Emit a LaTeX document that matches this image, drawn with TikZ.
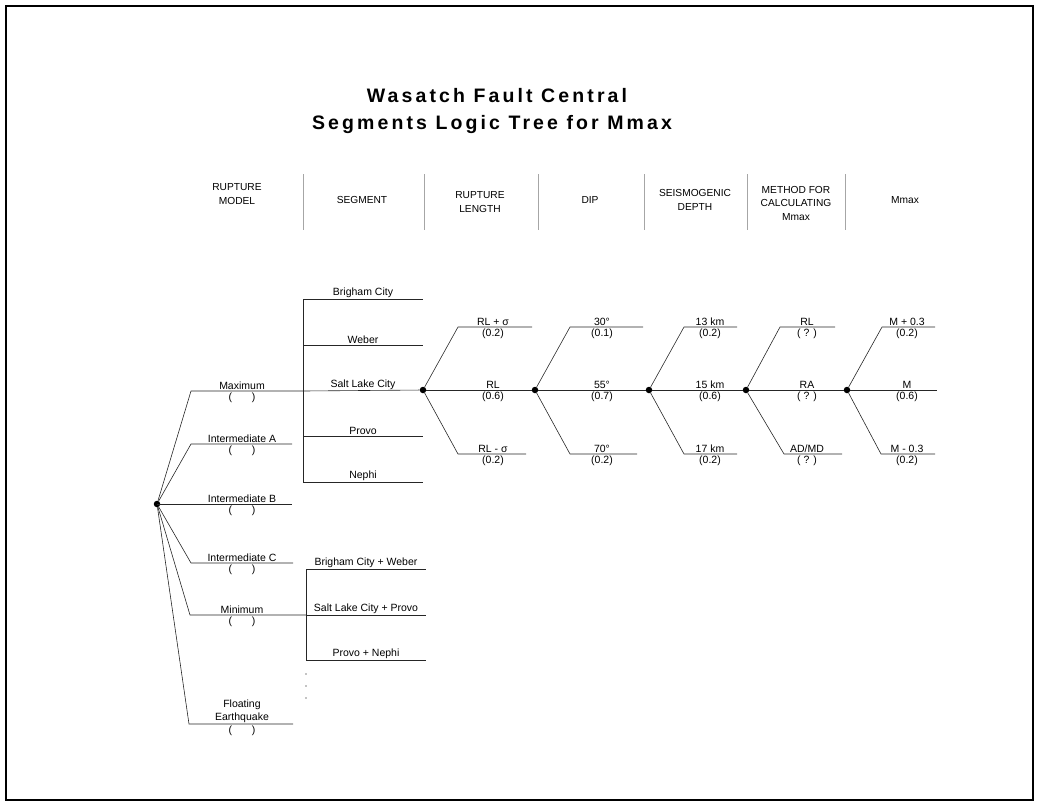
\documentclass[tikz,border=0pt]{standalone}
\usepackage{fontspec}
\setmainfont{Liberation Sans}
\newfontfamily\titlefont[LetterSpace=16]{Liberation Sans}
\usetikzlibrary{positioning}

\begin{document}
\begin{tikzpicture}[x=1pt,y=-1pt,
    font=\fontsize{10.5}{12}\selectfont,
    knot/.style={circle,fill,inner sep=0pt,minimum size=6.5pt},
    lbl/.style={above,inner sep=1.5pt},
    prob/.style={below,inner sep=1.6pt},
    head/.style={align=center,font=\fontsize{10.2}{13.5}\selectfont},
    sep/.style={gray!70,line width=0.8pt},
    branch/.style={black!85,line width=0.6pt}]

  \useasboundingbox (0,0) rectangle (1038,804);
  \draw[line width=2pt] (6,6) rectangle (1033,800);

  % title
  \node[font=\titlefont\bfseries\fontsize{19.5}{22}\selectfont] (title1) at (497,96) {Wasatch Fault Central};
  \node[font=\titlefont\bfseries\fontsize{19.5}{22}\selectfont] (title2) at (492,124) {Segments Logic Tree for Mmax};

  % column headings
  \node[head] (h1) at (237,194) {RUPTURE\\MODEL};
  \node[head] (h2) at (362,200) {SEGMENT};
  \node[head] (h3) at (480,202) {RUPTURE\\LENGTH};
  \node[head] (h4) at (590,200) {DIP};
  \node[head] (h5) at (695,200) {SEISMOGENIC\\DEPTH};
  \node[head] (h6) at (796,203) {METHOD FOR\\CALCULATING\\Mmax};
  \node[head] (h7) at (905,200) {Mmax};
  \foreach \x in {303,424,538,644,747,845}{
    \draw[sep] (\x,174) -- (\x,230);
  }

  % rupture model branches
  \node[knot] (root) at (157,504) {};
  \foreach \n/\k/\y/\e/\t in {max/191/391/303/Maximum, ia/191/444/292/Intermediate A,
      ib/157/504/292/Intermediate B, ic/191/563/293/Intermediate C,
      min/190/615/306/Minimum, fl/189/724/293/{Floating\\[0.5pt]Earthquake}}{
    \coordinate (\n-k) at (\k,\y);
    \coordinate (\n-e) at (\e,\y);
    \draw[branch] (root) -- (\n-k) -- (\n-e);
    \node[lbl,align=center] (\n-t) at (242,\y) {\t};
    \node[prob] (\n-p) at (242,\y) {(\hspace{1.9em})};
  }

  % segments
  \coordinate (segtop) at (303,299);
  \coordinate (segbot) at (303,482);
  \draw[branch] (segtop) -- (segbot);
  \foreach \n/\y/\t in {bc/299/Brigham City, wb/345/Weber, pv/436/Provo, ne/482/Nephi}{
    \coordinate (\n-e) at (423,\y);
    \draw[branch] (303,\y) -- (\n-e);
    \node[lbl] (\n-t) at (363,\y) {\t};
  }
  \node[lbl] (slc-t) at (363,391) {Salt Lake City};

  \coordinate (cmbtop) at (306,569);
  \coordinate (cmbbot) at (306,660);
  \draw[branch] (cmbtop) -- (cmbbot);
  \foreach \n/\y/\t in {bw/569/Brigham City + Weber, sp/615/Salt Lake City + Provo, pn/660/Provo + Nephi}{
    \coordinate (\n-e) at (426,\y);
    \draw[branch] (306,\y) -- (\n-e);
    \node[lbl] (\n-t) at (366,\y) {\t};
  }
  \foreach \y in {674,686,698}{
    \fill (306,\y) circle [radius=0.7];
  }

  % three-way branches
  \foreach \g/\d/\ku/\kl/\eu/\el/\em/\c/\ta/\pa/\tb/\pb/\tc/\pc in {
      len/423/458/458/532/526/535/493/{RL + σ}/(0.2)/RL/(0.6)/{RL - σ}/(0.2),
      dip/535/570/570/643/637/649/602/30°/(0.1)/55°/(0.7)/70°/(0.2),
      dep/649/684/684/737/737/746/710/13 km/(0.2)/15 km/(0.6)/17 km/(0.2),
      met/746/780/784/835/842/847/807/RL/( ? )/RA/( ? )/{AD/MD}/( ? ),
      mmx/847/882/881/935/935/937/907/M + 0.3/(0.2)/M/(0.6)/M - 0.3/(0.2)}{
    \node[knot] (\g) at (\d,390) {};
    \coordinate (\g-uk) at (\ku,327);
    \coordinate (\g-ue) at (\eu,327);
    \coordinate (\g-lk) at (\kl,454);
    \coordinate (\g-le) at (\el,454);
    \coordinate (\g-me) at (\em,390);
    \draw[branch] (\g) -- (\g-uk) -- (\g-ue);
    \draw[branch] (\g) -- (\g-lk) -- (\g-le);
    \node[lbl] at (\c,327) {\ta};
    \node[prob] at (\c,327) {\pa};
    \node[lbl] at (\c,390) {\tb};
    \node[prob] at (\c,390) {\pb};
    \node[lbl] at (\c,454) {\tc};
    \node[prob] at (\c,454) {\pc};
  }
  \draw[branch] (max-e) -- (len);
  \foreach \a/\b in {len/dip,dip/dep,dep/met,met/mmx}{
    \draw[branch] (\a) -- (\b);
  }
  \draw[branch] (mmx) -- (mmx-me);
\end{tikzpicture}
\end{document}
